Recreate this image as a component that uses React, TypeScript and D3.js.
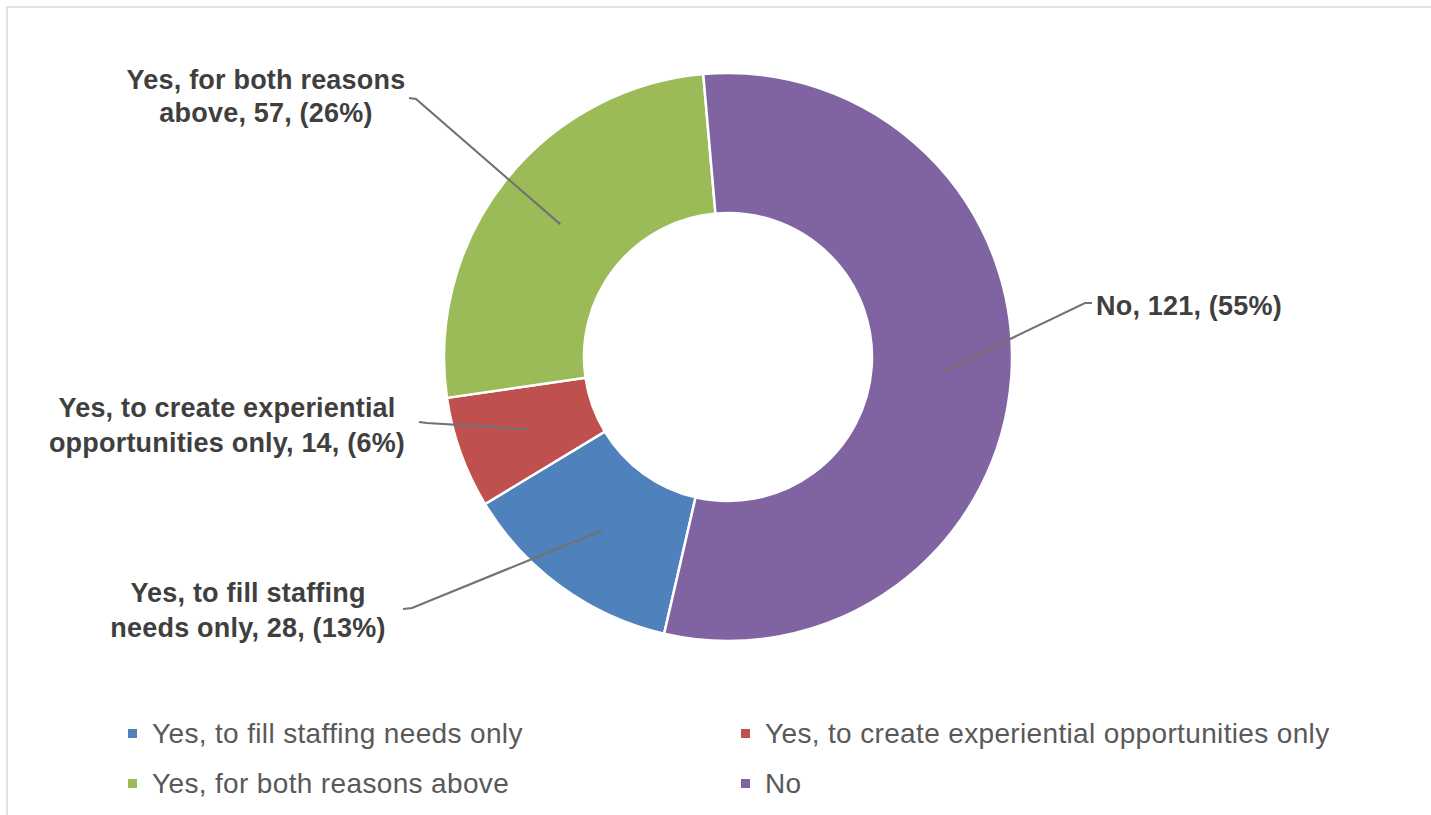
import React from "react";
import * as d3 from "d3";

const categories = [
  "Yes, to fill staffing needs only",
  "Yes, to create experiential opportunities only",
  "Yes, for both reasons above",
  "No",
];
const counts = [28, 14, 57, 121];
const percents = ["13%", "6%", "26%", "55%"];
const colors = ["#4F81BD", "#C0504D", "#9BBB59", "#8064A2"];

// label lines (text split) per category
const labelLines = [
  ["Yes, to fill staffing", "needs only, 28, (13%)"],
  ["Yes, to create experiential", "opportunities only, 14, (6%)"],
  ["Yes, for both reasons", "above, 57, (26%)"],
  ["No, 121, (55%)"],
];

const W = 1431;
const H = 815;
const cx = 728;
const cy = 357;
const R = 284;
const r = 144;
const startDeg = 193;

const labelLayout = [
  { x: 248, ys: [602, 637], anchor: "middle", lead: [403, 609], stub: [412, 608] },
  { x: 227, ys: [417, 452], anchor: "middle", lead: [419, 422], stub: [427, 423] },
  { x: 266, ys: [89, 122], anchor: "middle", lead: [409, 98], stub: [416, 99] },
  { x: 1096, ys: [315], anchor: "start", lead: [1092, 303], stub: [1085, 303] },
];

const legendPos = [
  { x: 128, y: 733 },
  { x: 741, y: 733 },
  { x: 128, y: 783 },
  { x: 741, y: 783 },
];

export default function App() {
  const start = (startDeg * Math.PI) / 180;
  const pie = d3
    .pie<number>()
    .sort(null)
    .value((d) => d)
    .startAngle(start)
    .endAngle(start + 2 * Math.PI);
  const arcs = pie(counts);
  const arc = d3.arc<d3.PieArcDatum<number>>().innerRadius(r).outerRadius(R);
  const line = d3.line();

  return (
    <svg
      width={W}
      height={H}
      style={{ position: "absolute", left: 0, top: 0, background: "#fff" }}
    >
      <rect x={7} y={7} width={W + 20} height={H + 20} fill="#fff" stroke="#d9d9d9" strokeWidth={1.5} />
      <g transform={`translate(${cx},${cy})`}>
        {arcs.map((a, i) => (
          <path key={i} d={arc(a) || ""} fill={colors[i]} stroke="#fff" strokeWidth={2.5} />
        ))}
      </g>
      {arcs.map((a, i) => {
        const c = arc.centroid(a);
        const L = labelLayout[i];
        const pts: [number, number][] = [
          [L.lead[0], L.lead[1]],
          [L.stub[0], L.stub[1]],
          [cx + c[0], cy + c[1]],
        ];
        return (
          <path key={"l" + i} d={line(pts) || ""} fill="none" stroke="#727272" strokeWidth={2.2} />
        );
      })}
      {labelLayout.map((L, i) => (
        <text
          key={"t" + i}
          fontFamily="'Liberation Sans', Arial, sans-serif"
          fontWeight="bold"
          fontSize={27}
          letterSpacing={0.2}
          fill="#3f3f3f"
          textAnchor={L.anchor as any}
        >
          {labelLines[i].map((s, j) => (
            <tspan key={j} x={L.x} y={L.ys[j]}>
              {s}
            </tspan>
          ))}
        </text>
      ))}
      {categories.map((cat, i) => (
        <g key={"lg" + i}>
          <rect x={legendPos[i].x} y={legendPos[i].y - 4} width={9} height={9} fill={colors[i]} />
          <text
            x={legendPos[i].x + 24}
            y={legendPos[i].y + 10}
            fontFamily="'Liberation Sans', Arial, sans-serif"
            fontSize={28}
            letterSpacing={0.35}
            fill="#595959"
          >
            {cat}
          </text>
        </g>
      ))}
    </svg>
  );
}
